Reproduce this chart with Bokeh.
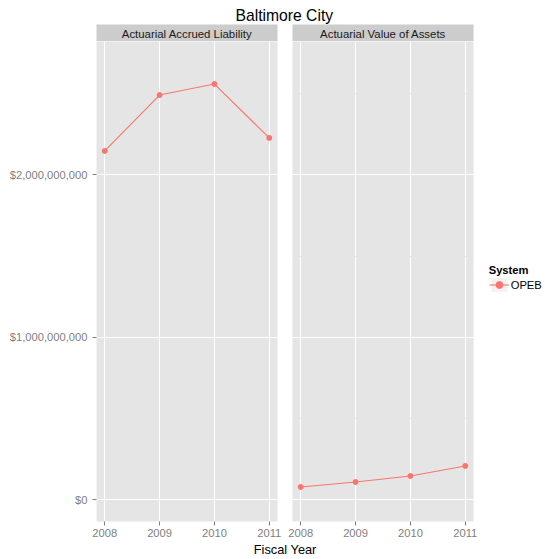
from bokeh.plotting import figure
from bokeh.layouts import row, column
from bokeh.models import (Range1d, FixedTicker, NumeralTickFormatter, Grid,
                          Legend, LegendItem)
from bokeh.embed import file_html
from bokeh.resources import INLINE
from bokeh.core.properties import value

# ---------------- data ----------------
chart_title = "Baltimore City"
facet_labels = ["Actuarial Accrued Liability", "Actuarial Value of Assets"]
years = [2008, 2009, 2010, 2011]
liability = [2.148e9, 2.492e9, 2.560e9, 2.228e9]
assets = [0.0775e9, 0.108e9, 0.145e9, 0.207e9]
y_ticks = [0, 1e9, 2e9]
series_name = "OPEB"
legend_title = "System"
x_title = "Fiscal Year"

# ---------------- style ----------------
FONT = "Liberation Sans"
GREY50 = "#7F7F7F"
PANEL_BG = "#E5E5E5"
STRIP_BG = "#CCCCCC"
KEY_BG = "#F2F2F2"
COLOR = "#F8766D"

pad = 0.05 * (max(years) - min(years))
x_range = Range1d(min(years) - pad, max(years) + pad)
y_range = Range1d(-1.354e8, 2.822e9)

FRAME_W = 181
FRAME_H = 480
BOTTOM = 21
TOTAL_W = 545
TITLE_H = 24
STRIP_H = 17
XLAB_H = 559 - TITLE_H - STRIP_H - FRAME_H - BOTTOM


def no_grid(f):
    for g in f.grid:
        g.visible = False


def make_panel(vals, left, right, with_y):
    p = figure(frame_width=FRAME_W, frame_height=FRAME_H,
               x_range=x_range, y_range=y_range,
               min_border_left=left, min_border_right=right,
               min_border_top=0, min_border_bottom=BOTTOM,
               y_axis_location="left" if with_y else None,
               background_fill_color=PANEL_BG, border_fill_color="white",
               outline_line_color=None, toolbar_location=None,
               output_backend="svg")
    xa = p.xaxis[0]
    xa.ticker = FixedTicker(ticks=years)
    xa.axis_line_color = None
    xa.major_tick_line_color = GREY50
    xa.major_tick_out = 4
    xa.major_tick_in = 0
    xa.minor_tick_line_color = None
    xa.major_label_text_font = FONT
    xa.major_label_text_font_size = "11.2px"
    xa.major_label_text_color = GREY50
    xa.major_label_standoff = 3
    p.xgrid.grid_line_color = "white"
    p.xgrid.grid_line_width = 1.1
    if with_y:
        ya = p.yaxis[0]
        ya.ticker = FixedTicker(ticks=y_ticks)
        ya.formatter = NumeralTickFormatter(format="$0,0")
        ya.axis_line_color = None
        ya.major_tick_line_color = GREY50
        ya.major_tick_out = 4
        ya.major_tick_in = 0
        ya.minor_tick_line_color = None
        ya.major_label_text_font = FONT
        ya.major_label_text_font_size = "11.2px"
        ya.major_label_text_color = GREY50
        ya.major_label_standoff = 5
        p.ygrid.grid_line_color = "white"
        p.ygrid.grid_line_width = 1.1
    else:
        p.add_layout(Grid(dimension=1, ticker=FixedTicker(ticks=y_ticks),
                          grid_line_color="white", grid_line_width=1.1))
    p.line(years, vals, line_color=COLOR, line_width=1.1)
    p.scatter(years, vals, size=5, fill_color=COLOR, line_color=COLOR)
    return p


def make_strip(label, left, right):
    s = figure(frame_width=FRAME_W, frame_height=STRIP_H,
               x_range=Range1d(0, 1), y_range=Range1d(0, 1),
               min_border_left=left, min_border_right=right,
               min_border_top=0, min_border_bottom=0,
               x_axis_location=None, y_axis_location=None,
               background_fill_color=STRIP_BG, border_fill_color="white",
               outline_line_color=None, toolbar_location=None,
               output_backend="svg")
    no_grid(s)
    s.text(x=[0.5], y=[0.45], text=[label], text_align="center",
           text_baseline="middle", text_font=value(FONT),
           text_font_size="11.4px", text_color="#1A1A1A")
    return s


def text_fig(w, h, txt, x, y, size, color="black"):
    t = figure(width=w, height=h, x_range=Range1d(0, w), y_range=Range1d(0, h),
               min_border=0, x_axis_location=None, y_axis_location=None,
               background_fill_color="white", border_fill_color="white",
               outline_line_color=None, toolbar_location=None,
               output_backend="svg")
    no_grid(t)
    t.text(x=[x], y=[y], text=[txt], text_align="center",
           text_baseline="alphabetic", text_font=value(FONT),
           text_font_size=size, text_color=color)
    return t


p1 = make_panel(liability, 96, 7, True)
p2 = make_panel(assets, 8, 4, False)
s1 = make_strip(facet_labels[0], 96, 7)
s2 = make_strip(facet_labels[1], 8, 4)

col1_w = 96 + FRAME_W + 7
col2_w = 8 + FRAME_W + 4
leg_w = TOTAL_W - col1_w - col2_w
leg_h = STRIP_H + FRAME_H + BOTTOM

# legend panel: key renderers carry the series data but lie outside the view
lf = figure(width=leg_w, height=leg_h, x_range=Range1d(0, 1), y_range=Range1d(0, 1),
            min_border=0, x_axis_location=None, y_axis_location=None,
            background_fill_color="white", border_fill_color="white",
            outline_line_color=None, toolbar_location=None, output_backend="svg")
no_grid(lf)
kq = lf.quad(left=years, right=years, top=assets, bottom=assets,
             fill_color=KEY_BG, line_color=None)
kl = lf.line(x=years, y=assets, line_color=COLOR, line_width=1.1)
ks = lf.scatter(x=years, y=assets, size=5, fill_color=COLOR, line_color=COLOR)
legend = Legend(items=[LegendItem(label=series_name, renderers=[kq, kl, ks])],
                title=legend_title, location=(11.7, 249),
                title_text_font=FONT, title_text_font_size="11.2px",
                title_text_font_style="bold", title_text_color="black",
                title_standoff=0,
                label_text_font=FONT, label_text_font_size="11.2px",
                label_text_color="black", label_standoff=2,
                glyph_width=20, glyph_height=17,
                padding=0, margin=0, spacing=0,
                border_line_color=None, background_fill_alpha=0)
lf.add_layout(legend)

title_f = text_fig(TOTAL_W, TITLE_H, chart_title, 283.8, 9, "15.7px")
xlab_f = text_fig(TOTAL_W, XLAB_H, x_title, 284.7, 10.0, "12.8px")

layout = column(title_f,
                row(column(s1, p1), column(s2, p2), lf),
                xlab_f)

open("out.html", "w").write(file_html(layout, INLINE))
